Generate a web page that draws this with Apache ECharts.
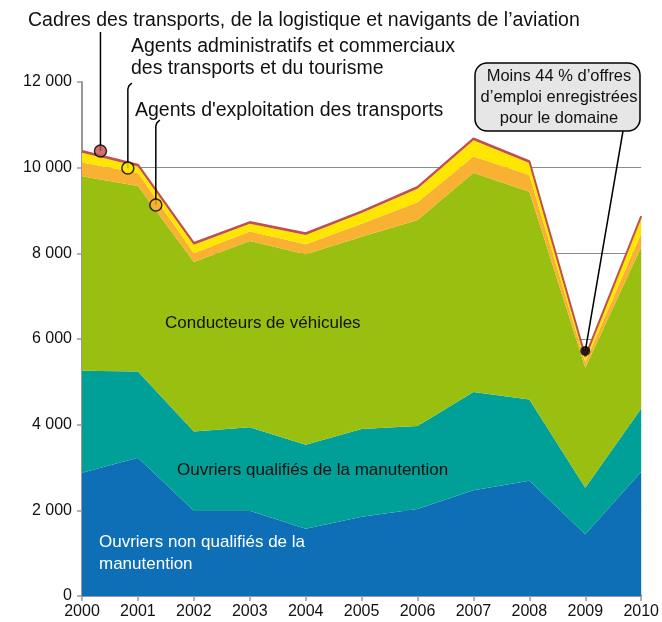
<!DOCTYPE html>
<html>
<head>
<meta charset="utf-8">
<script src="https://cdn.jsdelivr.net/npm/echarts@6/dist/echarts.min.js"></script>
<style>
  html, body { margin: 0; padding: 0; background: #fff; }
  #chart { width: 662px; height: 622px; }
</style>
</head>
<body>
<div id="chart"></div>
<script>
// années et effectifs (offres d'emploi) par famille de métiers, empilés
var years = ['2000', '2001', '2002', '2003', '2004', '2005', '2006', '2007', '2008', '2009', '2010'];
var nonQualifies = [2880, 3230, 1990, 1990, 1570, 1850, 2030, 2470, 2690, 1440, 2900];
var qualifies = [2380, 2010, 1850, 1950, 1960, 2050, 1940, 2290, 1900, 1090, 1480];
var conducteurs = [4540, 4330, 3960, 4350, 4450, 4490, 4810, 5120, 4850, 2800, 3770];
var exploitation = [320, 310, 200, 220, 230, 300, 410, 380, 390, 130, 320];
var administratifs = [230, 150, 200, 180, 220, 250, 320, 380, 280, 100, 360];
var cadres = [40, 40, 40, 40, 40, 40, 40, 40, 40, 30, 40];

// points d'annotation (année, valeur)
var annotX = [2000.33, 2000.82, 2001.32, 2009];
var annotY = [10390, 9990, 9130, 5720];
var annotColors = ['#C0504D', '#FFE600', '#F8B133', '#000000'];

var FONT = 'Liberation Sans, Arial, sans-serif';

var chart = echarts.init(document.getElementById('chart'));

function areaSeries(name, data, color, lineW) {
    return {
        name: name,
        type: 'line',
        stack: 'total',
        data: data,
        showSymbol: false,
        symbol: 'none',
        lineStyle: { width: lineW || 0, color: color },
        areaStyle: { color: color, opacity: 1 },
        itemStyle: { color: color },
        silent: true
    };
}

var option = {
    animation: false,
    backgroundColor: '#fff',
    grid: { left: 82, right: 20, top: 82, bottom: 26 },
    xAxis: [{
        type: 'category',
        data: years,
        boundaryGap: false,
        axisLine: { lineStyle: { color: '#999', width: 2 } },
        axisTick: { lineStyle: { color: '#999', width: 1.5 }, length: 5 },
        axisLabel: { color: '#111', fontSize: 16, fontFamily: FONT, margin: 8 },
        splitLine: { show: false }
    }, {
        type: 'value',
        min: 2000,
        max: 2010,
        show: false
    }],
    yAxis: {
        type: 'value',
        min: 0,
        max: 12000,
        interval: 2000,
        axisLine: { show: true, lineStyle: { color: '#999', width: 2 } },
        axisTick: { show: true, length: 5, lineStyle: { color: '#999', width: 1.5 } },
        axisLabel: {
            color: '#111', fontSize: 16, fontFamily: FONT, margin: 10,
            formatter: function (v) {
                return String(v).replace(/\B(?=(\d{3})+(?!\d))/g, ' ');
            }
        },
        splitLine: { show: true, showMaxLine: false, lineStyle: { color: '#8c8c8c', width: 1.2 } }
    },
    series: [
        areaSeries('Ouvriers non qualifiés de la manutention', nonQualifies, '#0E6FB6'),
        areaSeries('Ouvriers qualifiés de la manutention', qualifies, '#00A098'),
        areaSeries('Conducteurs de véhicules', conducteurs, '#99C011'),
        areaSeries("Agents d'exploitation des transports", exploitation, '#F8B133'),
        areaSeries('Agents administratifs et commerciaux des transports et du tourisme', administratifs, '#FFE600'),
        areaSeries('Cadres des transports, de la logistique et navigants de l’aviation', cadres, '#C0504D', 2),
        {
            type: 'scatter',
            xAxisIndex: 1,
            z: 20,
            silent: true,
            data: annotX.map(function (x, i) {
                return {
                    value: [x, annotY[i]],
                    symbolSize: i === 3 ? 10 : 12,
                    itemStyle: { color: annotColors[i], borderColor: '#000', borderWidth: i === 3 ? 0 : 1.5 }
                };
            })
        }
    ]
};

chart.setOption(option);

// lignes de rappel et textes des annotations
var p = annotX.map(function (x, i) {
    return chart.convertToPixel({ xAxisIndex: 1, yAxisIndex: 0 }, [x, annotY[i]]);
});

function txt(x, y, s, opts) {
    opts = opts || {};
    return {
        type: 'text', x: x, y: y, z: 30, silent: true,
        style: {
            text: s,
            fill: opts.fill || '#111',
            fontSize: opts.size || 17,
            fontFamily: FONT,
            lineHeight: opts.lh || 20,
            align: opts.align || 'left',
            verticalAlign: 'middle',
            textAlign: opts.align || 'left',
            textVerticalAlign: 'middle'
        }
    };
}

function leader(points) {
    return {
        type: 'polyline', z: 15, silent: true,
        shape: { points: points },
        style: { stroke: '#000', lineWidth: 1.5, fill: null }
    };
}

chart.setOption({
    graphic: [
        leader([p[0], [p[0][0], 32]]),
        leader([p[1], [p[1][0], 89], [p[1][0] + 1, 86], [p[1][0] + 4, 83]]),
        leader([p[2], [p[2][0], 126], [p[2][0] + 1, 123], [p[2][0] + 4, 120]]),
        leader([p[3], [623, 131]]),
        {
            type: 'rect', z: 25, silent: true,
            shape: { x: 475, y: 63, width: 165, height: 68, r: 12 },
            style: { fill: '#E6E6E6', stroke: '#000', lineWidth: 1.5 }
        },
        txt(559, 97, 'Moins 44 % d’offres\nd’emploi enregistrées\npour le domaine', { size: 16.5, align: 'center', lh: 21 }),
        txt(28, 21, 'Cadres des transports, de la logistique et navigants de l’aviation', { size: 19.5 }),
        txt(131, 58, 'Agents administratifs et commerciaux\ndes transports et du tourisme', { size: 19.5, lh: 22 }),
        txt(135, 111, "Agents d'exploitation des transports", { size: 19.5 }),
        txt(165, 323, 'Conducteurs de véhicules'),
        txt(177, 470, 'Ouvriers qualifiés de la manutention'),
        txt(99, 553, 'Ouvriers non qualifiés de la\nmanutention', { fill: '#fff', lh: 22 })
    ]
});
</script>
</body>
</html>
